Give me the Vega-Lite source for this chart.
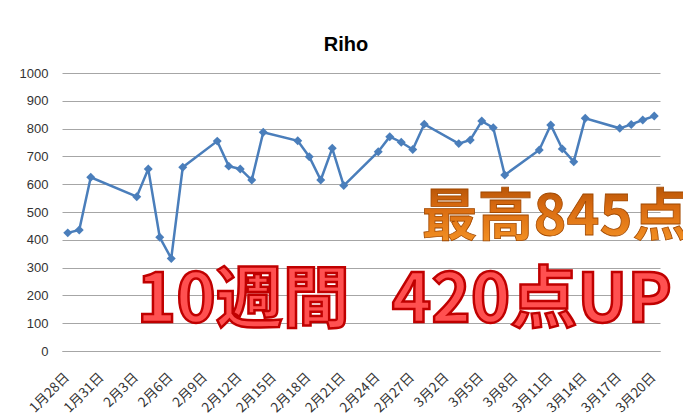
{
  "$schema": "https://vega.github.io/schema/vega-lite/v6.json",
  "width": 598,
  "height": 278,
  "autosize": {"type": "none"},
  "padding": {"left": 62, "top": 73, "right": 23, "bottom": 66},
  "background": "white",
  "title": {
    "text": "Riho",
    "font": "Liberation Sans",
    "fontSize": 20,
    "fontWeight": "bold",
    "color": "#000000",
    "anchor": "middle",
    "baseline": "alphabetic",
    "offset": -4,
    "dx": -15
  },
  "config": {
    "view": {"stroke": null},
    "axis": {"labelColor": "#333333", "titleColor": "#333333"}
  },
  "datasets": {
    "scores": [
      {"date": "2015/01/28", "score": 425},
      {"date": "2015/01/29", "score": 435},
      {"date": "2015/01/30", "score": 625},
      {"date": "2015/02/03", "score": 555},
      {"date": "2015/02/04", "score": 655},
      {"date": "2015/02/05", "score": 409},
      {"date": "2015/02/06", "score": 333},
      {"date": "2015/02/07", "score": 661},
      {"date": "2015/02/10", "score": 755},
      {"date": "2015/02/11", "score": 665},
      {"date": "2015/02/12", "score": 655},
      {"date": "2015/02/13", "score": 615},
      {"date": "2015/02/14", "score": 787},
      {"date": "2015/02/17", "score": 756},
      {"date": "2015/02/18", "score": 699},
      {"date": "2015/02/19", "score": 615},
      {"date": "2015/02/20", "score": 729},
      {"date": "2015/02/21", "score": 595},
      {"date": "2015/02/24", "score": 717},
      {"date": "2015/02/25", "score": 771},
      {"date": "2015/02/26", "score": 751},
      {"date": "2015/02/27", "score": 725},
      {"date": "2015/02/28", "score": 816},
      {"date": "2015/03/03", "score": 746},
      {"date": "2015/03/04", "score": 759},
      {"date": "2015/03/05", "score": 827},
      {"date": "2015/03/06", "score": 803},
      {"date": "2015/03/07", "score": 633},
      {"date": "2015/03/10", "score": 723},
      {"date": "2015/03/11", "score": 813},
      {"date": "2015/03/12", "score": 727},
      {"date": "2015/03/13", "score": 681},
      {"date": "2015/03/14", "score": 837},
      {"date": "2015/03/17", "score": 801},
      {"date": "2015/03/18", "score": 815},
      {"date": "2015/03/19", "score": 831},
      {"date": "2015/03/20", "score": 845}
    ],
    "notes": [
      {"date": "2015/02/27 18:00", "score": 417, "label": "最高845点", "kind": "max"},
      {"date": "2015/02/03", "score": 105, "label": "10週間", "kind": "up"},
      {"date": "2015/02/25 04:00", "score": 105, "label": "420点UP", "kind": "up"}
    ]
  },
  "layer": [
    {
      "data": {"name": "scores"},
      "mark": {
        "type": "line",
        "color": "#4a7ebb",
        "strokeWidth": 2.5,
        "point": {"shape": "diamond", "size": 80, "filled": true, "color": "#4a7ebb", "opacity": 1}
      },
      "encoding": {
        "x": {
          "field": "date",
          "type": "temporal",
          "scale": {
            "domain": [
              {"year": 2015, "month": 1, "date": 27, "hours": 12},
              {"year": 2015, "month": 3, "date": 20, "hours": 12}
            ]
          },
          "axis": {
            "title": null,
            "tickCount": 30,
            "values": [
              {"year": 2015, "month": 1, "date": 28},
              {"year": 2015, "month": 1, "date": 31},
              {"year": 2015, "month": 2, "date": 3},
              {"year": 2015, "month": 2, "date": 6},
              {"year": 2015, "month": 2, "date": 9},
              {"year": 2015, "month": 2, "date": 12},
              {"year": 2015, "month": 2, "date": 15},
              {"year": 2015, "month": 2, "date": 18},
              {"year": 2015, "month": 2, "date": 21},
              {"year": 2015, "month": 2, "date": 24},
              {"year": 2015, "month": 2, "date": 27},
              {"year": 2015, "month": 3, "date": 2},
              {"year": 2015, "month": 3, "date": 5},
              {"year": 2015, "month": 3, "date": 8},
              {"year": 2015, "month": 3, "date": 11},
              {"year": 2015, "month": 3, "date": 14},
              {"year": 2015, "month": 3, "date": 17},
              {"year": 2015, "month": 3, "date": 20}
            ],
            "labelExpr": "(month(datum.value)+1) + '月' + date(datum.value) + '日'",
            "labelAngle": -45,
            "labelFont": "Noto Sans CJK JP",
            "labelFontSize": 13.5,
            "labelColor": "#333333",
            "labelPadding": 19,
            "labelOffset": -6,
            "labelOverlap": false,
            "labelBound": false,
            "labelFlush": false,
            "ticks": false,
            "grid": false,
            "domain": true,
            "domainColor": "#a6a6a6",
            "domainWidth": 1
          }
        },
        "y": {
          "field": "score",
          "type": "quantitative",
          "scale": {"domain": [0, 1000], "nice": false, "zero": true},
          "axis": {
            "title": null,
            "tickCount": 20,
            "values": [0, 100, 200, 300, 400, 500, 600, 700, 800, 900, 1000],
            "format": "d",
            "labelFont": "Liberation Sans",
            "labelFontSize": 13,
            "labelColor": "#333333",
            "labelPadding": 14,
            "labelOverlap": false,
            "ticks": false,
            "domain": false,
            "grid": true,
            "gridColor": "#a6a6a6",
            "gridWidth": 1
          }
        }
      }
    },
    {
      "data": {"name": "notes"},
      "transform": [{"filter": "datum.kind == 'max'"}],
      "mark": {
        "type": "text",
        "align": "left",
        "baseline": "alphabetic",
        "font": "Noto Sans CJK JP",
        "fontSize": 56,
        "fontWeight": "bold",
        "fill": {
          "gradient": "linear",
          "x1": 0, "y1": 0, "x2": 0, "y2": 1,
          "stops": [
            {"offset": 0, "color": "#9c4400"},
            {"offset": 0.45, "color": "#d86a10"},
            {"offset": 1, "color": "#fa9a28"}
          ]
        },
        "stroke": "#a04800",
        "strokeWidth": 0.8
      },
      "encoding": {
        "x": {"field": "date", "type": "temporal"},
        "y": {"field": "score", "type": "quantitative"},
        "text": {"field": "label"}
      }
    },
    {
      "data": {"name": "notes"},
      "transform": [{"filter": "datum.kind == 'up'"}],
      "mark": {
        "type": "text",
        "align": "left",
        "baseline": "alphabetic",
        "font": "Noto Sans CJK JP",
        "fontSize": 67,
        "fontWeight": "bold",
        "fill": "#ff5050",
        "stroke": "#c00000",
        "strokeWidth": 2.5
      },
      "encoding": {
        "x": {"field": "date", "type": "temporal"},
        "y": {"field": "score", "type": "quantitative"},
        "text": {"field": "label"}
      }
    }
  ]
}
